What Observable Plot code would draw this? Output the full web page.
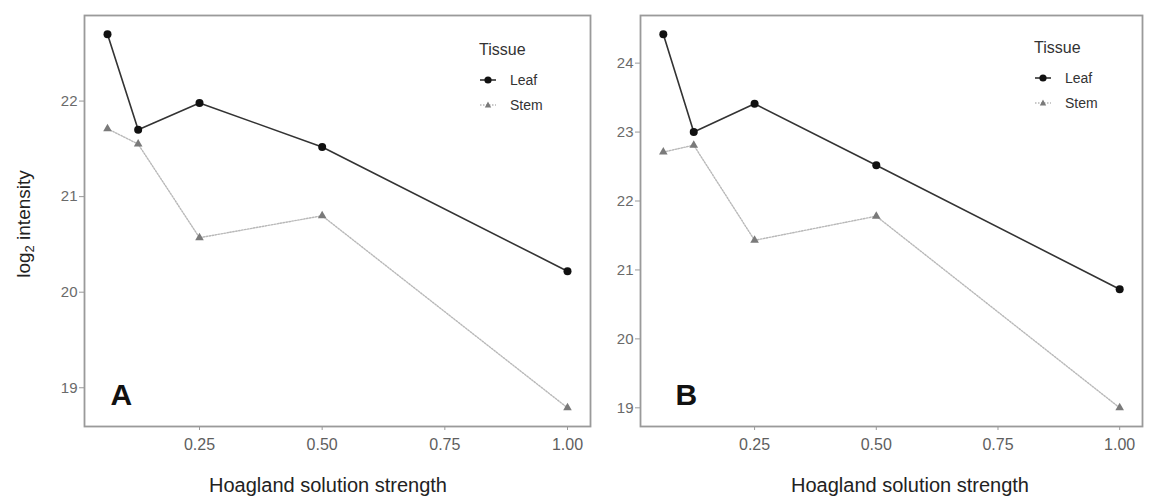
<!DOCTYPE html>
<html>
<head>
<meta charset="utf-8">
<script src="https://cdn.jsdelivr.net/npm/d3@7"></script>
<script src="https://cdn.jsdelivr.net/npm/@observablehq/plot@0.6"></script>
<style>
  body { margin: 0; background: #fff; font-family: "Liberation Sans", Arial, sans-serif; }
  #wrap { position: relative; width: 1150px; height: 502px; overflow: hidden; }
  .panel { position: absolute; top: 0; }
  .xtitle { position: absolute; font-size: 20px; color: #222; white-space: nowrap; transform: translate(-50%, -50%); }
  .ytitle { position: absolute; font-size: 19px; color: #222; white-space: nowrap; transform: translate(-50%, -50%) rotate(-90deg); }
  .ytitle sub { font-size: 13px; vertical-align: -4px; line-height: 0; }
  .legend { position: absolute; color: #333; }
  .legend .ttl { font-size: 16px; margin-bottom: 8px; }
  .legend .row { display: flex; align-items: center; height: 25px; font-size: 14px; }
  .legend svg { margin-right: 13px; }
</style>
</head>
<body>
<div id="wrap">
  <div id="pa" class="panel" style="left:0"></div>
  <div id="pb" class="panel" style="left:600px"></div>
</div>
<script>
// Hoagland solution strengths (x) and log2 intensities per tissue
const strengths = [0.0625, 0.125, 0.25, 0.5, 1];
const leafA = [22.70, 21.70, 21.98, 21.52, 20.22];
const stemA = [21.71, 21.55, 20.57, 20.80, 18.79];
const leafB = [24.42, 23.00, 23.41, 22.52, 20.72];
const stemB = [22.71, 22.81, 21.43, 21.78, 19.00];
const tissues = ["Leaf", "Stem"];
const panelLabels = ["A", "B"];
const xTicks = [0.25, 0.5, 0.75, 1];
const yTicksA = [19, 20, 21, 22];
const yTicksB = [19, 20, 21, 22, 23, 24];
const xTitle = "Hoagland solution strength";
const legendTitle = "Tissue";

// ggplot-style 5% padding around the data range
function expand(values) {
  const [lo, hi] = d3.extent(values);
  const pad = (hi - lo) * 0.05;
  return [lo - pad, hi + pad];
}

function panel({leaf, stem, yTicks, label, width, marginLeft, marginRight, labelDx}) {
  const leafRows = strengths.map((s, i) => ({s, v: leaf[i], tissue: tissues[0]}));
  const stemRows = strengths.map((s, i) => ({s, v: stem[i], tissue: tissues[1]}));
  return Plot.plot({
    width,
    height: 502,
    marginLeft,
    marginRight,
    marginTop: 15,
    marginBottom: 76,
    style: {fontFamily: "'Liberation Sans', Arial, sans-serif", fontSize: "15px", background: "transparent"},
    x: {domain: expand(strengths)},
    y: {domain: expand([...leaf, ...stem])},
    marks: [
      Plot.axisX({ticks: xTicks, tickFormat: d3.format(".2f"), tickSize: 4, tickPadding: 8,
                  fontSize: 16, color: "#5e5e5e", stroke: "#999", label: null}),
      Plot.axisY({ticks: yTicks, tickFormat: d3.format("d"), tickSize: 5, tickPadding: 2, fontSize: 15,
                  color: "#6a6a6a", stroke: "#999", label: null}),
      Plot.line(stemRows, {x: "s", y: "v", stroke: "#b8b8b8", strokeWidth: 1.4, strokeDasharray: "1.5,1.5"}),
      Plot.dot(stemRows, {x: "s", y: "v", symbol: "triangle", r: 3.2, fill: "#7a7a7a", stroke: "none"}),
      Plot.line(leafRows, {x: "s", y: "v", stroke: "#333", strokeWidth: 1.6}),
      Plot.dot(leafRows, {x: "s", y: "v", r: 4, fill: "#111", stroke: "none"}),
      Plot.text([label], {frameAnchor: "bottom-left", textAnchor: "start", lineAnchor: "middle",
                          dx: labelDx, dy: -31, fontSize: 30, fontWeight: "bold", fill: "#111"}),
      Plot.frame({stroke: "#9a9a9a", strokeWidth: 1.8})
    ]
  });
}

document.getElementById("pa").append(panel({
  leaf: leafA, stem: stemA, yTicks: yTicksA, label: panelLabels[0],
  width: 600, marginLeft: 84, marginRight: 10, labelDx: 26
}));
document.getElementById("pb").append(panel({
  leaf: leafB, stem: stemB, yTicks: yTicksB, label: panelLabels[1],
  width: 550, marginLeft: 40, marginRight: 8, labelDx: 35
}));

const wrap = document.getElementById("wrap");

// axis titles
function addDiv(cls, html, left, top) {
  const d = document.createElement("div");
  d.className = cls;
  d.innerHTML = html;
  d.style.left = left + "px";
  d.style.top = top + "px";
  wrap.append(d);
  return d;
}
addDiv("xtitle", xTitle, 328, 485);
addDiv("xtitle", xTitle, 910, 485);
addDiv("ytitle", "log<sub>2</sub> intensity", 24, 224);

// legend: line + symbol keys for each tissue
function keySvg(tissue) {
  if (tissue === "Leaf") {
    return `<svg width="18" height="10"><line x1="1" y1="5" x2="17" y2="5" stroke="#333" stroke-width="1.6"/>` +
           `<circle cx="9" cy="5" r="3.6" fill="#111"/></svg>`;
  }
  return `<svg width="18" height="10"><line x1="1" y1="5" x2="17" y2="5" stroke="#b8b8b8" stroke-width="1.4" stroke-dasharray="1.5,1.5"/>` +
         `<path d="M9,1.6L12.2,7.6L5.8,7.6Z" fill="#7a7a7a"/></svg>`;
}
function legend(left, top) {
  const d = document.createElement("div");
  d.className = "legend";
  d.style.left = left + "px";
  d.style.top = top + "px";
  d.innerHTML = `<div class="ttl">${legendTitle}</div>` +
    tissues.map(t => `<div class="row">${keySvg(t)}<span>${t}</span></div>`).join("");
  wrap.append(d);
}
legend(479, 41);
legend(1034, 39);
</script>
</body>
</html>
